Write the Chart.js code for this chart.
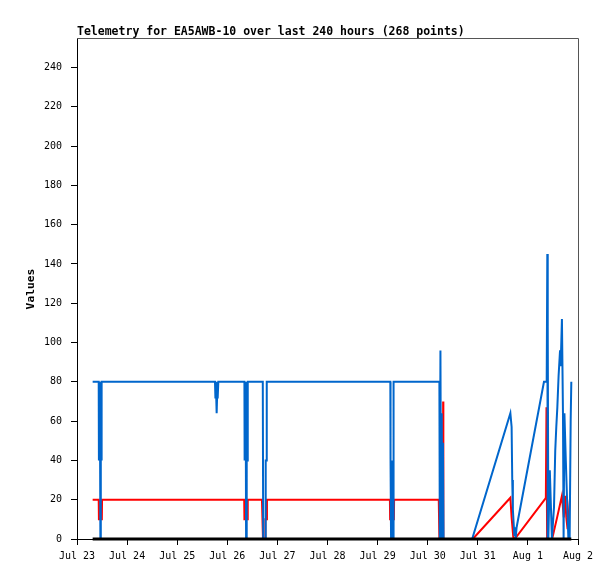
<!DOCTYPE html>
<html>
<head>
<meta charset="utf-8">
<title>Telemetry for EA5AWB-10</title>
<script src="https://cdn.jsdelivr.net/npm/chart.js@4.4.1/dist/chart.umd.min.js"></script>
<style>
  html, body { margin: 0; padding: 0; background: #fff; }
  #wrap { width: 615px; height: 579px; }
</style>
</head>
<body>
<div id="wrap"><canvas id="telemetryChart" width="615" height="579"></canvas></div>
<script>
// x values are hours since Jul 23 00:00
const dayLabels = ['Jul 23', 'Jul 24', 'Jul 25', 'Jul 26', 'Jul 27', 'Jul 28', 'Jul 29', 'Jul 30', 'Jul 31', 'Aug 1', 'Aug 2'];
const dayTickHours = [0, 24, 48, 72, 96, 120, 144, 168, 192, 216, 240];
const valueTicks = [0, 20, 40, 60, 80, 100, 120, 140, 160, 180, 200, 220, 240];

const blueHours = [
  7.5, 10.4, 10.5, 10.7, 10.9, 11.0, 11.2, 11.4, 11.5, 11.7, 11.9, 12.0,
  66.1, 66.3, 66.5, 66.7, 66.9, 67.1, 67.3, 67.5, 67.7,
  80.2, 80.3, 80.5, 80.7, 80.9, 81.0, 81.2, 81.4, 81.6, 81.8,
  89.0, 89.2, 90.2, 90.4, 90.7, 90.9,
  150.1, 150.2, 150.45, 150.7, 150.95, 151.2, 151.45, 151.6, 151.7,
  173.6, 173.8, 174.1, 174.4, 174.7, 175.0, 175.3, 175.6,
  189.3, 207.6, 208.2, 208.5, 208.8, 209.5, 209.8, 210.1, 210.6, 223.7,
  225.0, 225.3, 225.4, 225.6, 225.8, 226.5, 227.5, 228.5, 229.1, 229.6,
  230.1, 230.7, 231.4, 231.7, 232.3, 232.8, 233.1, 233.5, 234.1, 234.7,
  235.4, 236.0, 236.5, 236.8
];
const blueValues = [
  80, 80, 40, 80, 40, 80, 0, 40, 80, 40, 80, 80,
  80, 72, 80, 72, 64, 72, 80, 72, 80,
  80, 40, 80, 40, 80, 0, 40, 80, 40, 80,
  80, 0, 0, 40, 40, 80,
  80, 40, 0, 40, 0, 40, 0, 40, 80,
  80, 0, 96, 0, 64, 0, 49, 0,
  0, 64, 57, 30, 15, 2, 6, 0, 6, 80,
  80, 145, 0, 108, 0, 35, 0, 16, 45, 57,
  67, 83, 96, 88, 112, 64, 0, 64, 42, 22,
  0, 0, 61, 80
];

const redHours = [
  7.5, 10.4, 10.5, 11.9, 12.0,
  80.1, 80.2, 81.7, 81.8,
  88.6, 89.1, 90.2, 90.25, 90.9, 91.0,
  149.9, 150.0, 151.8, 151.9,
  173.3, 173.6, 175.3, 175.4, 175.5,
  189.6, 207.6, 208.2, 209.0, 209.7, 224.0, 224.6, 224.9, 225.2,
  227.6, 230.0, 232.3, 233.2, 233.8, 234.4, 235.0, 236.2, 236.5
];
const redValues = [
  20, 20, 10, 10, 20,
  20, 10, 10, 20,
  20, 0, 0, 10, 10, 20,
  20, 10, 10, 20,
  20, 0, 0, 70, 0,
  0, 21, 11, 1, 0, 20, 21, 67, 0,
  0, 11, 22, 11, 22, 11, 5, 21, 21
];

const zeroHours = [7.5, 236.8];
const zeroValues = [0, 0];

function toPoints(xs, ys) {
  return xs.map((x, i) => ({ x: x, y: ys[i] }));
}

// title, y-axis name and the grey top/right frame
const frameAndTitles = {
  id: 'frameAndTitles',
  afterDraw(chart) {
    const { ctx, chartArea } = chart;
    ctx.save();
    ctx.strokeStyle = '#555';
    ctx.lineWidth = 1;
    ctx.beginPath();
    ctx.moveTo(chartArea.left, chartArea.top + 0.5);
    ctx.lineTo(chartArea.right + 0.5, chartArea.top + 0.5);
    ctx.lineTo(chartArea.right + 0.5, chartArea.bottom);
    ctx.stroke();

    ctx.fillStyle = '#000';
    ctx.font = 'bold 11.5px "DejaVu Sans Mono"';
    ctx.textAlign = 'left';
    ctx.textBaseline = 'middle';
    ctx.fillText('Telemetry for EA5AWB-10 over last 240 hours (268 points)', 77, 32);

    ctx.translate(31, 289);
    ctx.rotate(-Math.PI / 2);
    ctx.textAlign = 'center';
    ctx.font = 'bold 11.3px "DejaVu Sans Mono"';
    ctx.fillText('Values', 0, 0);
    ctx.restore();
  }
};

const lineStyle = { borderWidth: 2, pointRadius: 0, tension: 0, fill: false };

new Chart(document.getElementById('telemetryChart'), {
  type: 'line',
  data: {
    datasets: [
      Object.assign({}, lineStyle, { label: 'zero', data: toPoints(zeroHours, zeroValues), borderColor: '#000000', borderWidth: 3, clip: false }),
      Object.assign({ label: 'blue', data: toPoints(blueHours, blueValues), borderColor: '#0066cc' }, lineStyle),
      Object.assign({ label: 'red', data: toPoints(redHours, redValues), borderColor: '#ff0000' }, lineStyle)
    ]
  },
  options: {
    responsive: false,
    animation: false,
    devicePixelRatio: 1,
    layout: { padding: { top: 38, right: 37, left: 0, bottom: 0 } },
    plugins: {
      legend: { display: false },
      tooltip: { enabled: false },
      title: { display: false }
    },
    scales: {
      x: {
        type: 'linear',
        min: 0,
        max: 240,
        afterBuildTicks: scale => { scale.ticks = dayTickHours.map(v => ({ value: v })); },
        afterFit: scale => { scale.height = 40; },
        ticks: {
          autoSkip: false,
          maxRotation: 0,
          padding: 5,
          color: '#000',
          font: { family: 'DejaVu Sans Mono', size: 10 },
          callback: value => dayLabels[dayTickHours.indexOf(value)]
        },
        grid: { drawOnChartArea: false, drawTicks: true, tickLength: 6, tickColor: '#000' },
        border: { display: true, color: '#000', width: 1 }
      },
      y: {
        type: 'linear',
        min: 0,
        max: 255,
        afterBuildTicks: scale => { scale.ticks = valueTicks.map(v => ({ value: v })); },
        afterFit: scale => { scale.width = 77; },
        ticks: {
          padding: 9,
          color: '#000',
          font: { family: 'DejaVu Sans Mono', size: 10 }
        },
        grid: { drawOnChartArea: false, drawTicks: true, tickLength: 6, tickColor: '#000' },
        border: { display: true, color: '#000', width: 1 }
      }
    }
  },
  plugins: [frameAndTitles]
});
</script>
</body>
</html>
